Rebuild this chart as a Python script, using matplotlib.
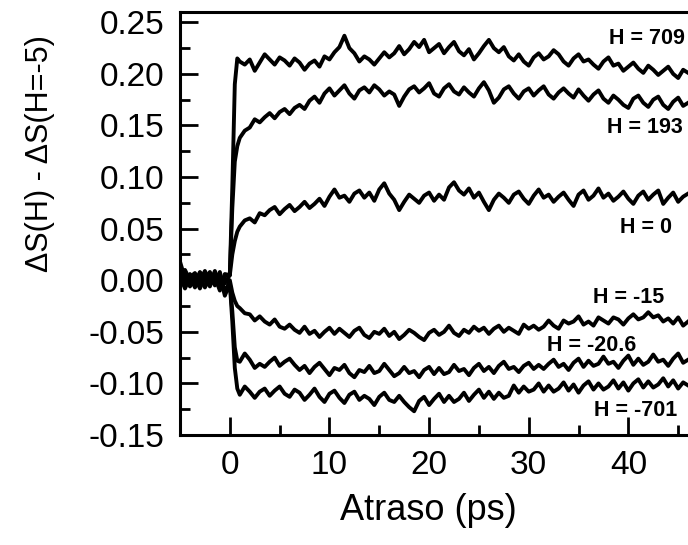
import numpy as np
import matplotlib
matplotlib.use("Agg")
import matplotlib.pyplot as plt
from matplotlib.ticker import MultipleLocator, FixedLocator, FormatStrFormatter

plt.rcParams['font.family'] = ['Liberation Sans', 'DejaVu Sans']

# sampling times (ps)
x_pre = np.arange(-5.0, -0.25, 0.5)            # -5.0 ... -0.5
x_rise = np.array([0.0, 0.25, 0.5, 0.75])
x_post = np.arange(1.0, 46.01, 0.5)             # 1.0 ... 46.0

labels = ["H = 709", "H = 193", "H = 0", "H = -15", "H = -20.6", "H = -701"]

h709_pre = [.012, -.004, .006, -.002, .008, .001, -.006, .007, -.003, .004]
h709_rise = [.005, .09, .19, .215]
h709_post = [
    .212, .209, .214, .203, .211, .219, .214, .209, .216, .213,
    .208, .215, .211, .204, .210, .213, .207, .217, .214, .221,
    .226, .237, .225, .220, .212, .217, .214, .209, .215, .221,
    .216, .220, .227, .219, .224, .231, .226, .233, .221, .225,
    .229, .220, .226, .231, .222, .218, .224, .214, .220, .227,
    .233, .225, .221, .226, .217, .213, .219, .212, .208, .216,
    .220, .214, .217, .223, .219, .212, .208, .215, .219, .212,
    .214, .209, .205, .212, .216, .208, .210, .203, .207, .211,
    .205, .201, .208, .204, .199, .203, .207, .200, .196, .204,
    .201]

h193_pre = [.018, .002, -.005, .005, -.001, .009, -.004, .003, -.010, .006]
h193_rise = [.005, .07, .115, .13]
h193_post = [
    .138, .145, .148, .156, .153, .158, .162, .157, .163, .166,
    .161, .167, .170, .166, .174, .178, .172, .181, .186, .179,
    .184, .189, .181, .176, .184, .187, .182, .189, .185, .179,
    .183, .180, .169, .178, .185, .188, .182, .186, .191, .181,
    .178, .186, .190, .183, .180, .187, .182, .178, .186, .192,
    .184, .172, .177, .185, .188, .181, .176, .183, .186, .179,
    .184, .188, .180, .176, .182, .186, .181, .177, .185, .179,
    .174, .180, .184, .176, .172, .179, .175, .170, .167, .176,
    .179, .172, .168, .175, .178, .170, .166, .173, .177, .169,
    .172]

h0_pre = [.004, -.008, .003, .007, -.004, .002, .008, -.005, .001, -.003]
h0_rise = [.005, .025, .038, .047]
h0_post = [
    .052, .058, .060, .056, .065, .063, .068, .071, .064, .069,
    .073, .067, .071, .076, .070, .074, .079, .072, .081, .088,
    .080, .082, .076, .084, .087, .080, .085, .077, .088, .094,
    .084, .078, .068, .076, .083, .079, .075, .082, .085, .077,
    .083, .078, .090, .095, .087, .083, .089, .080, .085, .076,
    .068, .078, .084, .080, .075, .083, .086, .079, .074, .082,
    .088, .080, .083, .076, .081, .085, .078, .072, .083, .087,
    .078, .082, .089, .080, .084, .077, .081, .086, .079, .074,
    .082, .086, .078, .083, .087, .074, .080, .085, .076, .081,
    .084]

hm15_pre = [-.003, .006, -.006, .001, .005, -.007, .004, -.002, .008, -.012]
hm15_rise = [.000, -.012, -.020, -.025]
hm15_post = [
    -.027, -.032, -.033, -.039, -.035, -.040, -.043, -.038, -.045, -.047,
    -.043, -.048, -.051, -.045, -.052, -.049, -.055, -.050, -.046, -.052,
    -.047, -.051, -.055, -.049, -.046, -.053, -.056, -.050, -.052, -.047,
    -.054, -.050, -.057, -.053, -.048, -.051, -.055, -.058, -.051, -.048,
    -.053, -.050, -.044, -.051, -.054, -.048, -.051, -.045, -.049, -.046,
    -.052, -.047, -.044, -.050, -.046, -.049, -.052, -.043, -.047, -.044,
    -.048, -.045, -.039, -.044, -.047, -.039, -.042, -.040, -.035, -.043,
    -.040, -.044, -.036, -.039, -.042, -.036, -.038, -.043, -.037, -.033,
    -.038, -.036, -.031, -.036, -.034, -.040, -.037, -.042, -.036, -.044,
    -.040]

hm206_pre = [.008, -.002, .004, -.007, .002, .006, -.003, .009, -.006, .001]
hm206_rise = [-.002, -.030, -.065, -.078]
hm206_post = [
    -.079, -.071, -.077, -.085, -.081, -.084, -.079, -.075, -.083, -.079,
    -.076, -.082, -.087, -.083, -.090, -.084, -.080, -.086, -.092, -.085,
    -.087, -.082, -.090, -.094, -.087, -.089, -.083, -.090, -.088, -.081,
    -.087, -.093, -.090, -.084, -.090, -.088, -.094, -.087, -.084, -.091,
    -.085, -.091, -.089, -.082, -.088, -.086, -.092, -.085, -.081, -.088,
    -.084, -.090, -.083, -.079, -.086, -.084, -.089, -.083, -.080, -.086,
    -.082, -.086, -.081, -.077, -.084, -.081, -.087, -.080, -.076, -.084,
    -.078, -.083, -.081, -.074, -.081, -.079, -.085, -.078, -.073, -.082,
    -.076, -.082, -.079, -.072, -.079, -.077, -.083, -.076, -.071, -.080,
    -.077]

hm701_pre = [-.006, .010, .000, .003, -.008, .004, .001, -.004, .005, -.015]
hm701_rise = [-.003, -.040, -.085, -.105]
hm701_post = [
    -.111, -.103, -.108, -.114, -.108, -.105, -.112, -.107, -.103, -.110,
    -.113, -.106, -.109, -.116, -.111, -.105, -.113, -.118, -.110, -.107,
    -.114, -.119, -.111, -.108, -.116, -.112, -.115, -.121, -.113, -.109,
    -.116, -.118, -.112, -.118, -.123, -.127, -.117, -.113, -.121, -.115,
    -.110, -.118, -.112, -.118, -.115, -.109, -.117, -.111, -.106, -.114,
    -.108, -.115, -.109, -.114, -.112, -.102, -.109, -.103, -.108, -.106,
    -.100, -.108, -.102, -.108, -.105, -.099, -.107, -.101, -.109, -.102,
    -.098, -.106, -.100, -.106, -.103, -.097, -.105, -.099, -.107, -.100,
    -.096, -.104, -.098, -.104, -.101, -.095, -.103, -.097, -.105, -.099,
    -.102]

series = [
    (h709_pre, h709_rise, h709_post),
    (h193_pre, h193_rise, h193_post),
    (h0_pre, h0_rise, h0_post),
    (hm15_pre, hm15_rise, hm15_post),
    (hm206_pre, hm206_rise, hm206_post),
    (hm701_pre, hm701_rise, hm701_post),
]

# label anchor (right edge, vertical center) in data coords
label_x = [45.7, 45.5, 44.4, 43.6, 40.8, 44.9]
label_y = [0.234, 0.148, 0.051, -0.017, -0.063, -0.126]

x_ticks = [0, 10, 20, 30, 40]

fig = plt.figure(figsize=(6.88, 5.45), dpi=100)
ax = fig.add_axes([180 / 688, 110 / 545, 548 / 688, 423 / 545])

x_all = np.concatenate([x_pre, x_rise, x_post])
for pre, rise, post in series:
    y_all = np.concatenate([pre, rise, post])
    ax.plot(x_all, y_all, color='black', lw=2.8, solid_joinstyle='round')

for lab, lx, ly in zip(labels, label_x, label_y):
    ax.text(lx, ly, lab, ha='right', va='center', fontsize=15.5,
            fontweight='bold', color='black')

ax.set_xlim(-5, 50)
ax.set_ylim(-0.15, 0.26)
ax.xaxis.set_major_locator(FixedLocator(x_ticks))
ax.xaxis.set_minor_locator(MultipleLocator(5))
ax.yaxis.set_major_locator(MultipleLocator(0.05))
ax.yaxis.set_minor_locator(MultipleLocator(0.025))
ax.yaxis.set_major_formatter(FormatStrFormatter('%.2f'))

ax.tick_params(which='major', direction='in', length=13, width=2.0,
               labelsize=24, pad=11)
ax.tick_params(which='minor', direction='in', length=7, width=2.0)
ax.tick_params(top=False, right=False, which='both')
for s in ax.spines.values():
    s.set_linewidth(2.2)

fig.text(428 / 688, (545 - 510) / 545, 'Atraso (ps)', ha='center', va='center',
         fontsize=26)
fig.text(40 / 688, (545 - 154) / 545, 'ΔS(H) - ΔS(H=-5)', ha='center',
         va='center', rotation=90, fontsize=22)

fig.savefig('out.png', dpi=100)
